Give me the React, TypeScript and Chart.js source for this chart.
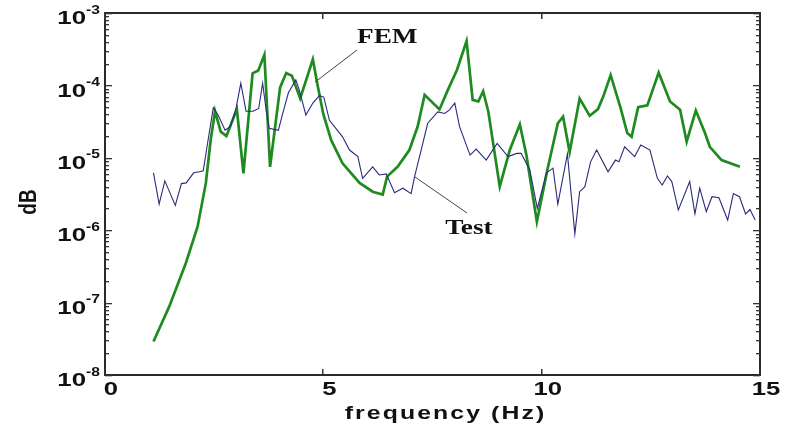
import React, { useEffect, useRef } from "react";
import { Chart, registerables } from "chart.js";

Chart.register(...registerables);

// Test (measured) response
const testFreq = [
  1.11, 1.24, 1.37, 1.61, 1.75, 1.86, 2.03, 2.16, 2.25, 2.35, 2.48, 2.59, 2.75, 2.87, 3.0, 3.11, 3.23, 3.39,
  3.52, 3.61, 3.69, 3.76, 3.97, 4.07, 4.2, 4.37, 4.45, 4.6, 4.76, 4.91, 5.01, 5.14, 5.44, 5.6, 5.79, 5.9,
  6.13, 6.28, 6.44, 6.63, 6.82, 7.01, 7.09, 7.24, 7.39, 7.62, 7.78, 7.89, 8.01, 8.12, 8.36, 8.5, 8.73, 8.98,
  9.23, 9.43, 9.53, 9.73, 9.9, 10.11, 10.26, 10.37, 10.59, 10.76, 10.87, 10.99, 11.12, 11.26, 11.52, 11.69,
  11.77, 11.9, 12.13, 12.27, 12.48, 12.65, 12.76, 12.88, 12.98, 13.13, 13.39, 13.51, 13.62, 13.77, 13.9,
  14.06, 14.26, 14.39, 14.53, 14.67, 14.77, 14.89,
];
const testAmp = [
  6.2e-6, 2.3e-6, 4.8e-6, 2.2e-6, 4.4e-6, 4.5e-6, 6.2e-6, 6.4e-6, 6.6e-6, 1.6e-5, 4.9e-5, 3.9e-5, 2.4e-5,
  2.7e-5, 4.8e-5, 1.07e-4, 4.4e-5, 4.4e-5, 4.8e-5, 1.07e-4, 4.6e-5, 2.55e-5, 2.4e-5, 4.1e-5, 7.9e-5,
  1.19e-4, 8.6e-5, 3.9e-5, 5.7e-5, 7.2e-5, 6.9e-5, 3.3e-5, 1.95e-5, 1.28e-5, 1.04e-5, 5.2e-6, 7.5e-6,
  5.8e-6, 6.0e-6, 3.3e-6, 3.8e-6, 3.2e-6, 5.5e-6, 1.28e-5, 3.0e-5, 4.3e-5, 4.1e-5, 4.6e-5, 5.7e-5, 2.7e-5,
  1.09e-5, 1.32e-5, 9.3e-6, 1.58e-5, 1.04e-5, 1.15e-5, 1.15e-5, 6.8e-6, 2.0e-6, 6.2e-6, 7.2e-6, 2.3e-6,
  1.13e-5, 8.9e-7, 3.4e-6, 4.0e-6, 8.8e-6, 1.28e-5, 6.4e-6, 9.3e-6, 8.8e-6, 1.42e-5, 1.04e-5, 1.5e-5,
  1.28e-5, 5.2e-6, 4.2e-6, 5.6e-6, 4.7e-6, 1.9e-6, 4.7e-6, 1.68e-6, 3.8e-6, 1.8e-6, 2.9e-6, 2.8e-6,
  1.38e-6, 3.2e-6, 2.9e-6, 1.68e-6, 1.93e-6, 1.38e-6,
];

// FEM (computed) response
const femFreq = [
  1.11, 1.47, 1.85, 2.12, 2.31, 2.42, 2.52, 2.65, 2.78, 3.02, 3.17, 3.38, 3.51, 3.65, 3.78, 4.01, 4.15, 4.28,
  4.47, 4.76, 4.87, 5.0, 5.18, 5.44, 5.83, 6.13, 6.36, 6.46, 6.7, 6.97, 7.16, 7.32, 7.66, 7.85, 8.06, 8.28,
  8.42, 8.55, 8.66, 8.78, 9.04, 9.27, 9.5, 9.65, 9.89, 10.13, 10.37, 10.49, 10.64, 10.87, 11.1, 11.29, 11.41,
  11.58, 11.81, 11.96, 12.06, 12.21, 12.42, 12.68, 12.94, 13.17, 13.32, 13.53, 13.74, 13.85, 14.12, 14.54,
];
const femAmp = [
  2.9e-8, 8.8e-8, 3.5e-7, 1.12e-6, 4.5e-6, 1.76e-5, 4.4e-5, 2.3e-5, 2.0e-5, 4.7e-5, 6.1e-6, 1.47e-4, 1.61e-4,
  2.65e-4, 7.5e-6, 9.4e-5, 1.48e-4, 1.36e-4, 6.6e-5, 2.29e-4, 1.0e-4, 4.0e-5, 1.75e-5, 8.4e-6, 4.5e-6,
  3.4e-6, 3.1e-6, 5.5e-6, 7.5e-6, 1.28e-5, 2.7e-5, 7.4e-5, 4.65e-5, 8.6e-5, 1.63e-4, 4.1e-4, 6.3e-5, 6.0e-5,
  8.3e-5, 4.3e-5, 4.0e-6, 1.28e-5, 2.9e-5, 1.09e-5, 1.31e-6, 6.8e-6, 3.0e-5, 3.7e-5, 1.2e-5, 6.6e-5, 3.8e-5,
  4.7e-5, 7.0e-5, 1.39e-4, 4.8e-5, 2.2e-5, 1.95e-5, 5.0e-5, 5.3e-5, 1.5e-4, 6.0e-5, 4.6e-5, 1.67e-5,
  4.5e-5, 2.2e-5, 1.42e-5, 9.3e-6, 7.5e-6,
];

// axes
const xTickValues = [0, 5, 10, 15];
const xTickLabels = ["0", "5", "10", "15"];
const yDecades = [-3, -4, -5, -6, -7, -8];
const yTickBase = "10";
const xTitle = "frequency (Hz)";
const yTitle = "dB";

// callout labels (data coordinates)
const femLabel = { text: "FEM", x: 5.77, y: 4.6e-4, fromX: 5.77, fromY: 3.08e-4, toX: 4.81, toY: 1.11e-4 };
const testLabel = { text: "Test", x: 7.79, y: 1.05e-6, fromX: 8.29, fromY: 1.73e-6, toX: 7.1, toY: 5.43e-6 };

function drawText(ctx: CanvasRenderingContext2D, text: string, x: number, y: number, font: string, sx: number, align: CanvasTextAlign, spacing = "0px") {
  ctx.save();
  ctx.translate(x, y);
  ctx.scale(sx, 1);
  ctx.font = font;
  (ctx as any).letterSpacing = spacing;
  ctx.textAlign = align;
  ctx.textBaseline = "middle";
  ctx.fillText(text, 0, 0);
  ctx.restore();
}

const framePlugin = {
  id: "framePlugin",
  afterDraw(chart: any) {
    const ctx: CanvasRenderingContext2D = chart.ctx;
    const { left, right, top, bottom } = chart.chartArea;
    const xs = chart.scales.x;
    const ys = chart.scales.y;
    const L = Math.round(left);
    const R = Math.round(right);
    const T = Math.round(top);
    const B = Math.round(bottom);
    ctx.save();
    ctx.fillStyle = "#2a2a2a";
    ctx.fillRect(L - 1, T - 1, R - L + 2, 2);
    ctx.fillRect(L - 1, B - 1, R - L + 2, 2);
    ctx.fillRect(L - 1, T - 1, 2, B - T + 2);
    ctx.fillRect(R - 1, T - 1, 2, B - T + 2);

    ctx.fillStyle = "#333";
    xTickValues.forEach((v) => {
      const px = Math.round(xs.getPixelForValue(v));
      ctx.fillRect(px - 1, B - 6, 1.5, 6);
      ctx.fillRect(px - 1, T, 1.5, 6);
    });
    for (let e = -8; e <= -3; e++) {
      for (let m = 1; m <= 9; m++) {
        const v = m * Math.pow(10, e);
        if (v > 1.0001e-3) break;
        const py = Math.round(ys.getPixelForValue(v));
        const len = m === 1 ? 7 : 4;
        ctx.fillRect(L, py, len, 1.3);
        ctx.fillRect(R - len, py, len, 1.3);
      }
    }

    ctx.fillStyle = "#111";
    yDecades.forEach((e) => {
      const py = ys.getPixelForValue(Math.pow(10, e));
      drawText(ctx, yTickBase, left - 19, py + 6, "bold 19px 'Liberation Sans', Arial, sans-serif", 1.36, "right");
      drawText(ctx, String(e), left - 19, py - 3, "bold 13px 'Liberation Sans', Arial, sans-serif", 1.2, "left");
    });
    xTickValues.forEach((v, i) => {
      const px = xs.getPixelForValue(v);
      drawText(ctx, xTickLabels[i], px + 6, bottom + 15, "bold 19px 'Liberation Sans', Arial, sans-serif", 1.35, "center");
    });
    drawText(ctx, xTitle, (left + right) / 2 + 13, bottom + 39, "bold 18px 'Liberation Sans', Arial, sans-serif", 1.38, "center", "1.5px");
    ctx.save();
    ctx.translate(29, (top + bottom) / 2 + 8);
    ctx.scale(1.3, 1);
    ctx.rotate(-Math.PI / 2);
    ctx.font = "bold 19px 'Liberation Sans', Arial, sans-serif";
    ctx.textAlign = "center";
    ctx.textBaseline = "middle";
    ctx.fillText(yTitle, 0, 0);
    ctx.restore();

    ctx.strokeStyle = "#444";
    ctx.lineWidth = 1;
    [femLabel, testLabel].forEach((lab) => {
      ctx.beginPath();
      ctx.moveTo(xs.getPixelForValue(lab.fromX), ys.getPixelForValue(lab.fromY));
      ctx.lineTo(xs.getPixelForValue(lab.toX), ys.getPixelForValue(lab.toY));
      ctx.stroke();
      drawText(ctx, lab.text, xs.getPixelForValue(lab.x), ys.getPixelForValue(lab.y), "bold 21px 'Liberation Serif', 'Times New Roman', serif", 1.3, "left");
    });
    ctx.restore();
  },
};

export default function App() {
  const ref = useRef<HTMLCanvasElement | null>(null);
  useEffect(() => {
    if (!ref.current) return;
    const chart = new Chart(ref.current, {
      type: "line",
      data: {
        datasets: [
          {
            label: "Test",
            data: testFreq.map((f, i) => ({ x: f, y: testAmp[i] })),
            borderColor: "#2b2b7c",
            borderWidth: 1.1,
            pointRadius: 0,
            tension: 0,
            fill: false,
          },
          {
            label: "FEM",
            data: femFreq.map((f, i) => ({ x: f, y: femAmp[i] })),
            borderColor: "#1f8a1f",
            borderWidth: 2.7,
            pointRadius: 0,
            tension: 0,
            fill: false,
          },
        ],
      },
      options: {
        responsive: false,
        animation: false,
        layout: { padding: { left: 105, right: 28, top: 13, bottom: 59 } },
        plugins: { legend: { display: false }, tooltip: { enabled: false } },
        scales: {
          x: { type: "linear", min: 0, max: 15, display: false },
          y: { type: "logarithmic", min: 1e-8, max: 1e-3, display: false },
        },
      },
      plugins: [framePlugin],
    });
    return () => chart.destroy();
  }, []);
  return (
    <div style={{ position: "fixed", left: 0, top: 0, width: 788, height: 434, background: "#fff" }}>
      <canvas ref={ref} width={788} height={434} />
    </div>
  );
}
